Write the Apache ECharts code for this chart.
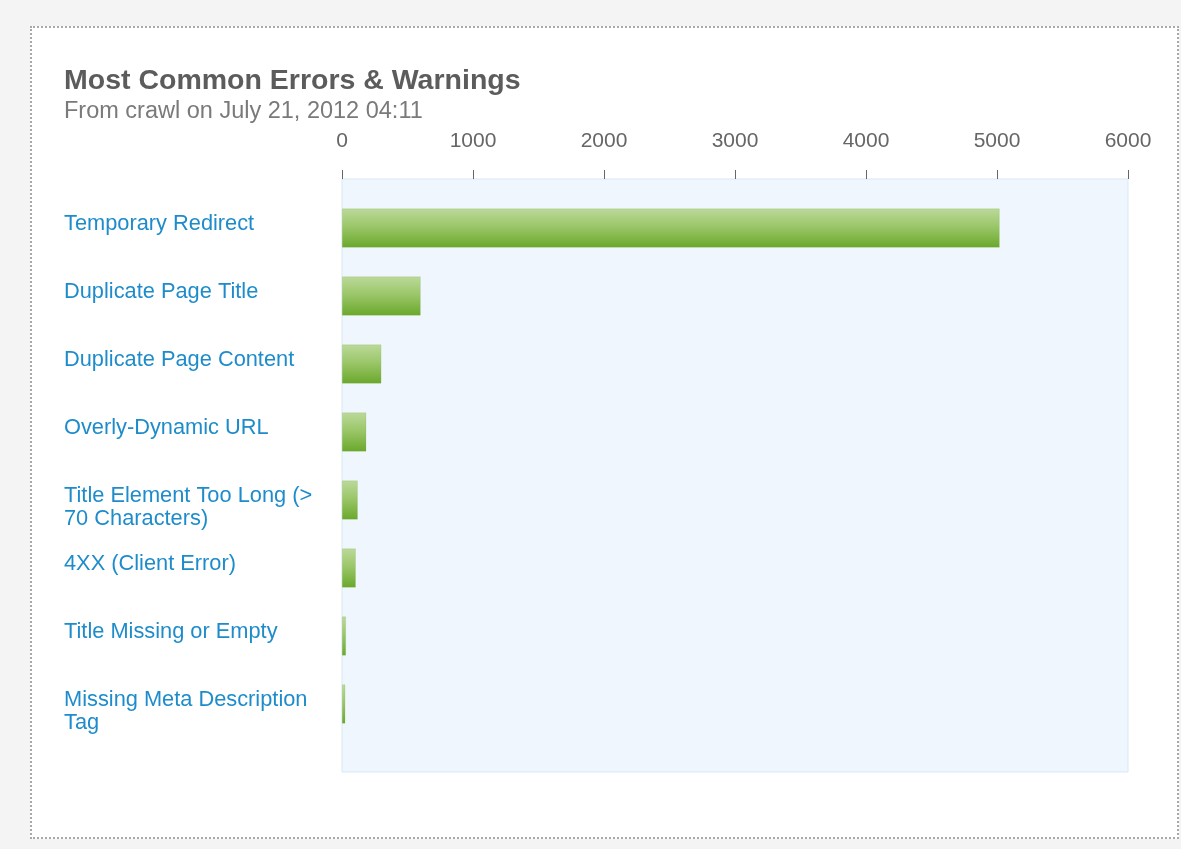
<!DOCTYPE html>
<html>
<head>
<meta charset="utf-8">
<title>Most Common Errors &amp; Warnings</title>
<script src="https://cdn.jsdelivr.net/npm/echarts@6/dist/echarts.min.js"></script>
<style>
  html, body { margin: 0; padding: 0; width: 1181px; height: 849px; background: #f4f4f4; overflow: hidden; }
  #frame { position: absolute; left: 30px; top: 26px; width: 1145px; height: 809px; background: #ffffff; border: 2px dotted #a8a8a8; }
  #chart { position: absolute; left: 0; top: 0; width: 1181px; height: 849px; }
</style>
</head>
<body>
<div id="frame"></div>
<div id="chart"></div>
<script>
// Crawl issue counts, listed top to bottom
const categories = [
  'Temporary Redirect',
  'Duplicate Page Title',
  'Duplicate Page Content',
  'Overly-Dynamic URL',
  'Title Element Too Long (> 70 Characters)',
  '4XX (Client Error)',
  'Title Missing or Empty',
  'Missing Meta Description Tag'
];
const counts = [5020, 600, 300, 185, 120, 105, 30, 25];

// Value axis range and step
const axisMin = 0;
const axisMax = 6000;
const axisStep = 1000;

const FONT = '"Liberation Sans", Arial, Helvetica, sans-serif';

const chart = echarts.init(document.getElementById('chart'), null, { renderer: 'canvas' });

chart.setOption({
  backgroundColor: 'transparent',
  animation: false,
  textStyle: { fontFamily: FONT },
  title: [
    {
      text: 'Most Common Errors & Warnings',
      left: 64, top: 67, padding: 0,
      textStyle: { fontFamily: FONT, fontSize: 28.5, fontWeight: 'bold', color: '#5c5c5c', lineHeight: 29 }
    },
    {
      text: 'From crawl on July 21, 2012 04:11',
      left: 64, top: 100, padding: 0,
      textStyle: { fontFamily: FONT, fontSize: 23.5, fontWeight: 'normal', color: '#7a7a7a', lineHeight: 24 }
    }
  ],
  grid: [
    // shaded plot panel carrying the value scale
    {
      left: 342, right: 53, top: 179, bottom: 77,
      show: true, backgroundColor: '#eff6fd', borderColor: '#d6e9f7', borderWidth: 1
    },
    // band area for the bars
    { left: 342, right: 53, top: 194, bottom: 111 },
    // same bands, raised slightly, for the top-anchored category names
    { left: 342, right: 53, top: 178, bottom: 127 }
  ],
  xAxis: [
    {
      gridIndex: 0, type: 'value', position: 'top',
      min: axisMin, max: axisMax, interval: axisStep,
      axisLine: { show: false, onZero: false },
      axisTick: { show: true, length: 9, lineStyle: { color: '#666666', width: 1 } },
      splitLine: { show: false },
      axisLabel: {
        color: '#666666', fontSize: 21, fontFamily: FONT, margin: 27,
        formatter: function (v) { return String(v); }
      }
    },
    {
      gridIndex: 1, type: 'value', show: false,
      min: axisMin, max: axisMax, interval: axisStep
    },
    {
      gridIndex: 2, type: 'value', show: false,
      min: axisMin, max: axisMax, interval: axisStep
    }
  ],
  yAxis: [
    { gridIndex: 0, type: 'value', show: false, min: 0, max: 1 },
    {
      gridIndex: 1, type: 'category', data: categories, inverse: true,
      axisLine: { show: false },
      axisTick: { show: false },
      splitLine: { show: false },
      axisLabel: { show: false }
    },
    {
      gridIndex: 2, type: 'category', data: categories, inverse: true,
      axisLine: { show: false },
      axisTick: { show: false },
      splitLine: { show: false },
      axisLabel: {
        align: 'left', verticalAlign: 'top', margin: 278,
        color: '#1e8ccb', fontSize: 21.8, fontFamily: FONT,
        lineHeight: 23, width: 266, overflow: 'break'
      }
    }
  ],
  series: [
    {
      type: 'bar',
      xAxisIndex: 1, yAxisIndex: 1,
      data: counts,
      barWidth: 39,
      itemStyle: {
        color: new echarts.graphic.LinearGradient(0, 0, 0, 1, [
          { offset: 0, color: '#bbd99a' },
          { offset: 0.45, color: '#9cc76a' },
          { offset: 1, color: '#6aa82b' }
        ]),
        borderColor: 'rgba(120,170,70,0.35)',
        borderWidth: 0.5
      },
      emphasis: { disabled: true }
    }
  ]
});
</script>
</body>
</html>
